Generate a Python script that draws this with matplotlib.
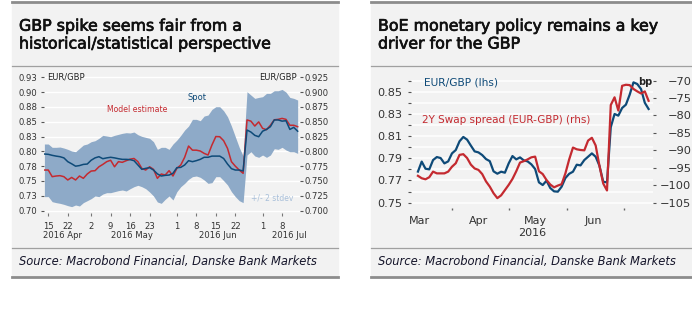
import matplotlib
matplotlib.use('Agg')
import matplotlib.pyplot as plt
import matplotlib.dates as mdates
import matplotlib.patheffects as pe
from matplotlib.lines import Line2D
from matplotlib.patches import Rectangle
from matplotlib.ticker import FixedLocator
import numpy as np
import pandas as pd

plt.rcParams['font.family'] = ['DejaVu Sans']

# ---- left chart: EUR/GBP spot vs model estimate, business days 14 Apr - 14 Jul 2016
left_dates = pd.bdate_range('2016-04-14', '2016-07-14')
spot = [0.7955, 0.795, 0.7933, 0.792, 0.791, 0.789, 0.7826, 0.779, 0.775, 0.776,
        0.778, 0.7786, 0.785, 0.789, 0.791, 0.7876, 0.789, 0.790, 0.789, 0.7876,
        0.7865, 0.7865, 0.786, 0.7843, 0.777, 0.7697, 0.7713, 0.7725, 0.7685, 0.762,
        0.7584, 0.7595, 0.760, 0.763, 0.7725, 0.773, 0.777, 0.7843, 0.7826, 0.7843,
        0.7865, 0.790, 0.790, 0.792, 0.792, 0.792, 0.788, 0.7786, 0.7708, 0.7685,
        0.7685, 0.767, 0.836, 0.8326, 0.827, 0.8247, 0.834, 0.837, 0.8416, 0.853,
        0.853, 0.851, 0.8517, 0.837, 0.8405, 0.834]
model = [0.7685, 0.7685, 0.7573, 0.7584, 0.759, 0.7573, 0.7517, 0.756, 0.7517, 0.7584,
         0.7545, 0.7618, 0.7668, 0.7674, 0.774, 0.778, 0.7826, 0.785, 0.774, 0.7826,
         0.7815, 0.7843, 0.7868, 0.788, 0.7826, 0.7713, 0.7685, 0.774, 0.7697, 0.7545,
         0.7618, 0.760, 0.7674, 0.7584, 0.7713, 0.777, 0.790, 0.809, 0.802, 0.802,
         0.8006, 0.7966, 0.7938, 0.8107, 0.825, 0.8247, 0.818, 0.805, 0.7826, 0.775,
         0.7685, 0.763, 0.853, 0.851, 0.8427, 0.8497, 0.8388, 0.8366, 0.844, 0.8533,
         0.854, 0.8556, 0.854, 0.844, 0.844, 0.8416]
band_upper = [0.8124, 0.8124, 0.8068, 0.8068, 0.8073, 0.8056, 0.8034, 0.8006, 0.7994, 0.805,
              0.8107, 0.8124, 0.8163, 0.818, 0.822, 0.827, 0.8259, 0.8247, 0.827, 0.8287,
              0.8304, 0.8315, 0.831, 0.8326, 0.8281, 0.8253, 0.8236, 0.822, 0.8163, 0.8034,
              0.8068, 0.8068, 0.8034, 0.8124, 0.819, 0.827, 0.836, 0.8427, 0.854, 0.854,
              0.8517, 0.8596, 0.8613, 0.8708, 0.8753, 0.8753, 0.8685, 0.8584, 0.8427, 0.8247,
              0.8068, 0.7922, 0.9006, 0.895, 0.8894, 0.891, 0.8922, 0.8978, 0.8978, 0.9023,
              0.9023, 0.9045, 0.900, 0.891, 0.8894, 0.8866]
band_lower = [0.7236, 0.7236, 0.7151, 0.7135, 0.7123, 0.7106, 0.7084, 0.7067, 0.7095, 0.7078,
              0.7135, 0.7168, 0.7202, 0.7247, 0.7236, 0.728, 0.7303, 0.7303, 0.732, 0.7337,
              0.7348, 0.7331, 0.737, 0.7404, 0.7427, 0.7404, 0.737, 0.7314, 0.7247, 0.7146,
              0.7123, 0.7191, 0.7247, 0.718, 0.732, 0.7404, 0.746, 0.7528, 0.7573, 0.7584,
              0.7562, 0.7517, 0.746, 0.7472, 0.7573, 0.7573, 0.7506, 0.7433, 0.732, 0.7236,
              0.7168, 0.7135, 0.7938, 0.7994, 0.7922, 0.7899, 0.7938, 0.7899, 0.7938, 0.8045,
              0.8034, 0.8068, 0.8023, 0.7994, 0.7994, 0.7966]
left_ticks = [0.700, 0.725, 0.750, 0.775, 0.800, 0.825, 0.850, 0.875, 0.900, 0.925]
left_ticklabels = ['0.70', '0.73', '0.75', '0.78', '0.80', '0.83', '0.85', '0.88', '0.90', '0.93']
right_ticklabels = ['0.700', '0.725', '0.750', '0.775', '0.800', '0.825', '0.850', '0.875', '0.900', '0.925']
day_ticks = ['2016-04-15', '2016-04-22', '2016-05-02', '2016-05-09', '2016-05-16', '2016-05-23',
             '2016-06-01', '2016-06-08', '2016-06-15', '2016-06-22', '2016-07-01', '2016-07-08']
month_labels = ['2016 Apr', '2016 May', '2016 Jun', '2016 Jul']

# ---- right chart: EUR/GBP vs 2Y swap spread, every 2nd day 14 Mar - 14 Jul 2016
right_dates = pd.date_range('2016-03-14', periods=62, freq='2D')
eurgbp = [0.778, 0.787, 0.7806, 0.780, 0.7884, 0.7911, 0.7902, 0.7854, 0.7872, 0.7944,
          0.7974, 0.8053, 0.8092, 0.8068, 0.8014, 0.7962, 0.7953, 0.7929, 0.7893, 0.7874,
          0.7782, 0.7761, 0.7779, 0.777, 0.7854, 0.792, 0.789, 0.7908, 0.7881, 0.7872,
          0.7845, 0.7803, 0.7683, 0.7659, 0.7698, 0.7632, 0.7602, 0.7599, 0.7644, 0.7722,
          0.776, 0.7779, 0.7842, 0.7836, 0.7884, 0.7914, 0.7944, 0.7914, 0.7833, 0.7689,
          0.7683, 0.818, 0.8299, 0.8284, 0.8353, 0.8383, 0.8473, 0.8584, 0.8569, 0.8524,
          0.840, 0.8344]
swap_spread = [-97.3, -98.0, -98.3, -97.7, -96.1, -96.6, -96.6, -96.6, -96.1, -94.7,
               -93.7, -91.3, -91.1, -92.2, -94.1, -95.2, -95.6, -96.8, -98.9, -100.4,
               -102.3, -103.7, -102.9, -101.4, -99.9, -98.2, -96.0, -93.5, -93.1, -92.6,
               -92.0, -91.8, -96.0, -96.8, -98.5, -99.8, -100.6, -100.1, -99.7, -96.6,
               -92.6, -89.2, -89.7, -89.9, -90.0, -87.2, -86.4, -88.6, -94.4, -99.5,
               -101.5, -77.0, -74.8, -78.6, -71.5, -71.2, -71.3, -72.4, -73.1, -73.7,
               -73.1, -75.8]
lhs_ticks = [0.75, 0.76, 0.77, 0.78, 0.79, 0.80, 0.81, 0.82, 0.83, 0.84, 0.85, 0.86]
rhs_ticks = [-105, -100, -95, -90, -85, -80, -75, -70]
month_names = ['2016-03-15', '2016-04-15', '2016-05-15', '2016-06-15']

BG = '#f2f2f2'
BLUE = '#0e4a78'
RED = '#c42a30'
BAND = '#8eaac8'
TXT = '#333333'
W, H = 692, 325

fig = plt.figure(figsize=(W / 100, H / 100), dpi=100)


def fx(px):
    return px / W


def fy(py):
    return 1 - py / H


def panel(x0, x1, title1, title2):
    fig.patches.append(Rectangle((fx(x0), fy(277)), fx(x1) - fx(x0), fy(2) - fy(277),
                                 transform=fig.transFigure, color=BG, zorder=-5))
    for y, lw, c in [(2, 2.0, '#8c8c8c'), (66, 0.9, '#a0a0a0'),
                     (248, 0.9, '#a0a0a0'), (277, 2.0, '#8c8c8c')]:
        fig.add_artist(Line2D([fx(x0), fx(x1)], [fy(y), fy(y)], lw=lw, color=c,
                              transform=fig.transFigure))
    bold = [pe.withStroke(linewidth=0.5, foreground='#111111')]
    fig.text(fx(x0 + 7), fy(30.7), title1, fontsize=11.4, color='#111111', va='baseline',
             path_effects=bold)
    fig.text(fx(x0 + 7), fy(48.5), title2, fontsize=11.4, color='#111111', va='baseline',
             path_effects=bold)
    fig.text(fx(x0 + 7), fy(265), 'Source: Macrobond Financial, Danske Bank Markets',
             fontsize=8.3, style='italic', color='#15152a', va='baseline')


panel(12, 338, 'GBP spike seems fair from a', 'historical/statistical perspective')
panel(371, 692, 'BoE monetary policy remains a key', 'driver for the GBP')

# ---------------- left chart
ax = fig.add_axes([fx(44), fy(213), fx(300) - fx(44), fy(74.9) - fy(213)])
ax.set_facecolor(BG)
idx = np.arange(len(spot))
ax.fill_between(idx, band_lower, band_upper, color=BAND, lw=0, zorder=2)
ax.plot(idx, model, color=RED, lw=1.1, zorder=3)
ax.plot(idx, spot, color=BLUE, lw=1.1, zorder=4)
ax.set_xlim(-0.1, 65.6)
ax.set_ylim(0.696, 0.929)
ax.set_yticks(left_ticks)
ax.set_yticklabels(left_ticklabels)
ax.grid(axis='y', color='white', lw=1.0)
ax.set_axisbelow(True)
for s in ax.spines.values():
    s.set_visible(False)
tick_pos = left_dates.get_indexer(pd.to_datetime(day_ticks))
ax.set_xticks(tick_pos)
ax.set_xticklabels([str(pd.Timestamp(d).day) for d in day_ticks])
ax.tick_params(axis='x', length=2, width=0.8, color='#777777', pad=4.5, labelsize=6.1, labelcolor=TXT)
ax.tick_params(axis='y', length=2.2, width=0.8, color='#555555', pad=2.4, labelsize=6.1, labelcolor=TXT)
for pos, lab in zip([4.7, 22.5, 44.5, 62.8], month_labels):
    ax.text(pos, -0.181, lab, transform=ax.get_xaxis_transform(), ha='center', va='baseline',
            fontsize=6.1, color=TXT)

axb = ax.twinx()
axb.set_ylim(ax.get_ylim())
axb.set_yticks(left_ticks)
axb.set_yticklabels(right_ticklabels)
axb.tick_params(axis='y', length=2.2, width=0.8, color='#555555', pad=1.2, labelsize=6.1, labelcolor=TXT)
for s in axb.spines.values():
    s.set_visible(False)

fig.text(fx(46.7), fy(77.3), 'EUR/GBP', fontsize=6.0, color='#222222', va='center')
fig.text(fx(297), fy(77.3), 'EUR/GBP', fontsize=6.0, color='#222222', va='center', ha='right')
fig.text(fx(197.5), fy(97), 'Spot', fontsize=6.0, color=BLUE, va='center', ha='center')
fig.text(fx(137), fy(109), 'Model estimate', fontsize=5.6, color=RED, va='center', ha='center')
fig.text(fx(272.5), fy(198), '+/- 2 stdev', fontsize=5.5, color='#a8bfd9', va='center', ha='center')

# ---------------- right chart
axr = fig.add_axes([fx(411), fy(208), fx(653) - fx(411), fy(77.8) - fy(208)])
axr.set_facecolor(BG)
axr.plot(right_dates, eurgbp, color=BLUE, lw=1.6, zorder=3)
axr.set_ylim(0.7452, 0.8625)
axr.set_xlim(pd.Timestamp('2016-03-10 08:00'), pd.Timestamp('2016-07-16 08:00'))
axr.set_yticks(lhs_ticks)
axr.set_yticklabels(['%.2f' % t if round(t * 100) % 2 == 1 else '' for t in lhs_ticks])
axr.grid(axis='y', color='white', lw=1.1)
axr.set_axisbelow(True)
axr.xaxis.set_major_locator(FixedLocator(mdates.date2num(pd.to_datetime(month_names))))
axr.xaxis.set_major_formatter(mdates.DateFormatter('%b'))
axr.xaxis.set_minor_locator(mdates.MonthLocator())
axr.tick_params(axis='x', which='major', length=0, pad=6.0, labelsize=8, labelcolor=TXT)
axr.tick_params(axis='x', which='minor', length=1.5, width=1.0, color='#666666')
axr.tick_params(axis='y', length=2.5, width=0.8, color='#555555', pad=4.0, labelsize=8.1, labelcolor=TXT)
for s in axr.spines.values():
    s.set_visible(False)

axr2 = axr.twinx()
axr2.plot(right_dates, swap_spread, color=RED, lw=1.6, zorder=3)
lo, hi = axr.get_ylim()
axr2.set_ylim(-105 + (lo - 0.75) / 0.11 * 35, -105 + (hi - 0.75) / 0.11 * 35)
axr2.set_yticks(rhs_ticks)
axr2.set_yticklabels(['\u2212%d' % abs(t) for t in rhs_ticks])
axr2.tick_params(axis='y', length=2.5, width=0.8, color='#555555', pad=25.2, labelsize=8.2, labelcolor=TXT)
for lab in axr2.get_yticklabels():
    lab.set_horizontalalignment('right')
for s in axr2.spines.values():
    s.set_visible(False)

fig.text(fx(645), fy(82), 'bp', fontsize=7, fontweight='bold', color='#222222', va='center', ha='center')
fig.text(fx(424), fy(83), 'EUR/GBP (lhs)', fontsize=7.7, color=BLUE, va='center')
fig.text(fx(422), fy(120), '2Y Swap spread (EUR-GBP) (rhs)', fontsize=7.5, color=RED, va='center')
fig.text(fx(532), fy(235.7), '2016', fontsize=8, color=TXT, va='baseline', ha='center')

fig.savefig('out.png', dpi=100, facecolor='white')
